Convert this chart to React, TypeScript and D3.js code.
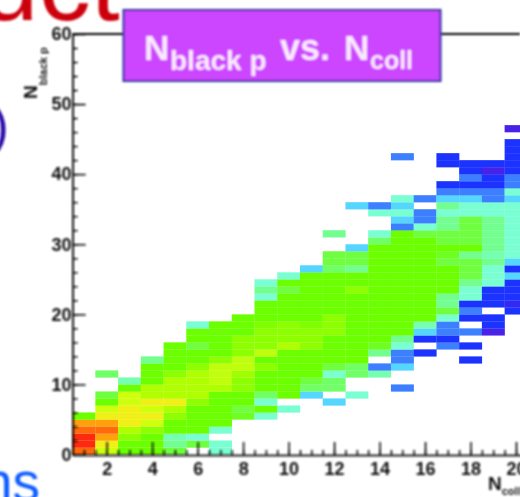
import React, { useEffect, useRef } from "react";
import * as d3 from "d3";

// colour level of every bin, by N_coll column, first entry = row in colStarts
const col01 = [14, 15, 15, 14, 13, 8];
const col02 = [11, 12, 13, 14, 13, 12, 11, 8, 7, 0, 0, 6.5];
const col03 = [8, 8, 9, 10, 12, 12, 12, 11, 11, 8, 5.5];
const col04 = [8, 8, 8, 9, 11, 12, 11, 12, 10, 10, 8, 8, 8, 6];
const col05 = [7, 6, 5.5, 8, 8, 9, 10, 12, 10, 10, 10, 9, 8, 8, 8, 8];
const col06 = [0, 7, 5, 8, 8, 8, 8, 9, 10, 10, 10, 10, 9, 8, 8, 7, 8, 8, 5];
const col07 = [5, 5, 0, 5, 8, 8, 8, 8, 8, 10, 10.5, 10.5, 10.5, 9, 8, 8, 8, 8, 8];
const col08 = [7.5, 7, 8, 8, 9, 9, 9.5, 10.5, 10.5, 9, 9, 9, 8, 8, 8];
const col09 = [5, 8, 5, 6.5, 8, 8, 8, 9, 8, 10.5, 9, 9, 9, 8.5, 8, 8, 8, 5, 6, 5];
const col10 = [5, 0, 8, 8, 8, 8, 8, 8, 8, 10, 9, 9, 9, 8, 8, 8, 8, 7, 8, 5];
const col11 = [4, 6.5, 7, 8, 8, 8, 8, 9, 9, 9, 8.5, 8, 8, 8, 8, 8, 8, 8, 4];
const col12 = [4, 0, 6.5, 6.5, 5, 7, 8, 8, 8, 8, 9, 9, 9, 8, 8, 8, 8, 8, 8, 6.5, 7, 7, 0, 0, 6];
const col13 = [5, 0, 0, 6.5, 6.5, 8, 8, 8, 8, 8, 8, 8, 8, 8, 8, 9, 8, 8, 6, 7, 7, 4, 0, 0, 0, 0, 0, 4];
const col14 = [5.5, 3, 0, 6, 7.5, 8, 8, 8, 8, 8, 8, 8, 8, 8, 8, 8, 8, 8, 8, 6.5, 5, 0, 0, 5, 3];
const col15 = [3, 0, 0, 4, 3, 3, 5, 6, 8, 8, 8, 8, 8, 8, 8, 8, 8, 8, 8, 8, 8, 8, 8, 3, 4, 5, 4, 5, 0, 0, 0, 0, 0, 3];
const col16 = [2, 0, 2, 4, 5.5, 8, 8, 8, 8, 8, 8, 8, 8, 8, 8, 8, 8, 7, 5, 3, 3, 0, 3];
const col17 = [3, 2, 3, 3, 5, 7, 6, 6, 8, 8, 8, 8, 7, 7.5, 8, 7, 7, 6, 6, 5, 6, 4, 3, 2, 0, 0, 2, 2];
const col18 = [2, 0, 2, 0, 3, 0, 2, 3, 2, 5, 5, 6, 7, 7, 7, 6, 8, 7, 7, 7, 7, 5, 5, 4, 3, 2, 3, 2, 2];
const col19 = [1, 2, 2, 0, 2, 2, 2, 5, 5, 5, 6, 5.5, 6, 6, 6, 6, 6, 5, 5, 3, 3, 2, 2, 1, 2];
const col20 = [2, 1.5, 2, 2, 2, 4, 2, 4, 5, 5, 5, 5, 5, 5, 5, 5, 4, 5, 3, 3, 2, 2, 2, 2, 2, 0, 1];

const columns = [col01, col02, col03, col04, col05, col06, col07, col08, col09, col10, col11, col12, col13, col14, col15, col16, col17, col18, col19, col20];
const colStarts = [0, 0, 0, 0, 0, 0, 0, 5, 5, 6, 8, 7, 8, 11, 9, 14, 15, 13, 17, 20];

const levelSteps = [1, 2, 3, 4, 5, 6, 7, 8, 9, 10, 11, 12, 13, 14, 15];
const levelColors = ["#4a22e8", "#1b32ff", "#3d80ff", "#55d6ff", "#7affd2", "#72ff90", "#70ff40", "#6cff00", "#8eff00", "#b0ff00", "#ceff10", "#f0f014", "#ffa010", "#ff6a10", "#ff2a10"];

const xMajor = [2, 4, 6, 8, 10, 12, 14, 16, 18, 20];
const xMinor = d3.range(1, 21, 0.5);
const yMajor = [0, 10, 20, 30, 40, 50, 60];
const yMinor = d3.range(0, 61, 2);

function App() {
    const svgRef = useRef<SVGSVGElement>(null);

    useEffect(() => {
        const svg = d3.select(svgRef.current);
        svg.selectAll("*").remove();

        const defs = svg.append("defs");
        const addBlur = (id: string, amount: number) => {
            defs.append("filter")
                .attr("id", id)
                .attr("filterUnits", "userSpaceOnUse")
                .attr("x", -10).attr("y", -10).attr("width", 540).attr("height", 520)
                .append("feGaussianBlur")
                .attr("stdDeviation", amount);
        };
        addBlur("soft", 0.8);
        addBlur("softCells", 0.5);

        const xScale = d3.scaleLinear().domain([0.5, 21.5]).range([72.6, 550.1]);
        const yScale = d3.scaleLinear().domain([0, 60]).range([454.5, 34]);
        const color = d3.scaleLinear<string>().domain(levelSteps).range(levelColors);

        // bins
        const cells = svg.append("g").attr("filter", "url(#softCells)");
        columns.forEach((values, i) => {
            values.forEach((level, j) => {
                if (!level) return;
                const row = colStarts[i] + j;
                cells.append("rect")
                    .attr("x", xScale(i + 0.5))
                    .attr("y", yScale(row + 1))
                    .attr("width", xScale(1.5) - xScale(0.5) + 0.2)
                    .attr("height", yScale(0) - yScale(1) + 0.2)
                    .attr("fill", color(level));
            });
        });

        const root = svg.append("g").attr("filter", "url(#soft)");

        // slide text cut off by the crop
        root.append("text").text("duct")
            .attr("x", -77).attr("y", 20)
            .attr("font-family", "Liberation Sans").attr("font-size", 104)
            .attr("fill", "#cc0008");
        root.append("text").text(")")
            .attr("x", 9).attr("y", 144).attr("text-anchor", "end")
            .attr("font-family", "Liberation Sans").attr("font-size", 54)
            .attr("fill", "#2a10a8");
        root.append("text").text("ns")
            .attr("x", 40).attr("y", 501).attr("text-anchor", "end")
            .attr("font-family", "Liberation Sans").attr("font-size", 55)
            .attr("fill", "#0a5cff");

        // axes
        const axisBottom = root.append("g").attr("transform", `translate(0, ${yScale(0) + 0.5})`);
        axisBottom.append("g")
            .call(d3.axisBottom(xScale).tickValues(xMinor).tickSizeInner(-5).tickSizeOuter(0).tickFormat(() => ""));
        const xMajorAxis = axisBottom.append("g")
            .call(d3.axisBottom(xScale).tickValues(xMajor).tickSizeInner(-13).tickSizeOuter(0).tickPadding(7));

        const axisLeft = root.append("g").attr("transform", `translate(${xScale(0.5)}, 0)`);
        axisLeft.append("g")
            .call(d3.axisLeft(yScale).tickValues(yMinor).tickSizeInner(-5).tickSizeOuter(0).tickFormat(() => ""));
        const yMajorAxis = axisLeft.append("g")
            .call(d3.axisLeft(yScale).tickValues(yMajor).tickSizeInner(-13).tickSizeOuter(0).tickPadding(1));

        root.selectAll(".tick line, .domain").attr("stroke", "#111").attr("stroke-width", 1.6);
        [xMajorAxis, yMajorAxis].forEach(axis => {
            axis.selectAll("text")
                .attr("font-family", "Liberation Sans")
                .attr("font-weight", "bold")
                .attr("font-size", 18)
                .attr("fill", "#111");
        });

        root.append("line")
            .attr("x1", xScale(0.5)).attr("x2", 520)
            .attr("y1", yScale(60)).attr("y2", yScale(60))
            .attr("stroke", "#000").attr("stroke-width", 1.8);

        // axis titles
        const yTitle = root.append("text")
            .attr("transform", "translate(37, 99) rotate(-90)")
            .attr("font-family", "Liberation Sans").attr("font-weight", "bold")
            .attr("font-size", 19).attr("fill", "#111");
        yTitle.append("tspan").text("N");
        yTitle.append("tspan").text("black p").attr("font-size", 11).attr("dy", 10);

        const xTitle = root.append("text")
            .attr("x", 488).attr("y", 490)
            .attr("font-family", "Liberation Sans").attr("font-weight", "bold")
            .attr("font-size", 19).attr("fill", "#111");
        xTitle.append("tspan").text("N");
        xTitle.append("tspan").text("coll").attr("font-size", 11).attr("dy", 5);

        // title box
        root.append("rect")
            .attr("x", 123.5).attr("y", 10).attr("width", 317).attr("height", 71)
            .attr("fill", "#cc44ff").attr("stroke", "#2030a0").attr("stroke-width", 2);

        const title = root.append("text")
            .attr("y", 60)
            .attr("font-family", "Liberation Sans").attr("font-weight", "bold")
            .attr("font-size", 35).attr("fill", "#faeaff");
        title.append("tspan").text("N").attr("x", 144);
        title.append("tspan").text("black p").attr("x", 170).attr("font-size", 28).attr("dy", 10);
        title.append("tspan").text("vs.").attr("x", 280).attr("dy", -10).attr("font-size", 36);
        title.append("tspan").text("N").attr("x", 344).attr("font-size", 35);
        title.append("tspan").text("coll").attr("x", 370).attr("font-size", 25).attr("dy", 9);
    }, []);

    return (
        <svg
            ref={svgRef}
            width={520}
            height={497}
            style={{ position: "absolute", left: 0, top: 0, display: "block", background: "#fff" }}
        />
    );
}

export default App;
